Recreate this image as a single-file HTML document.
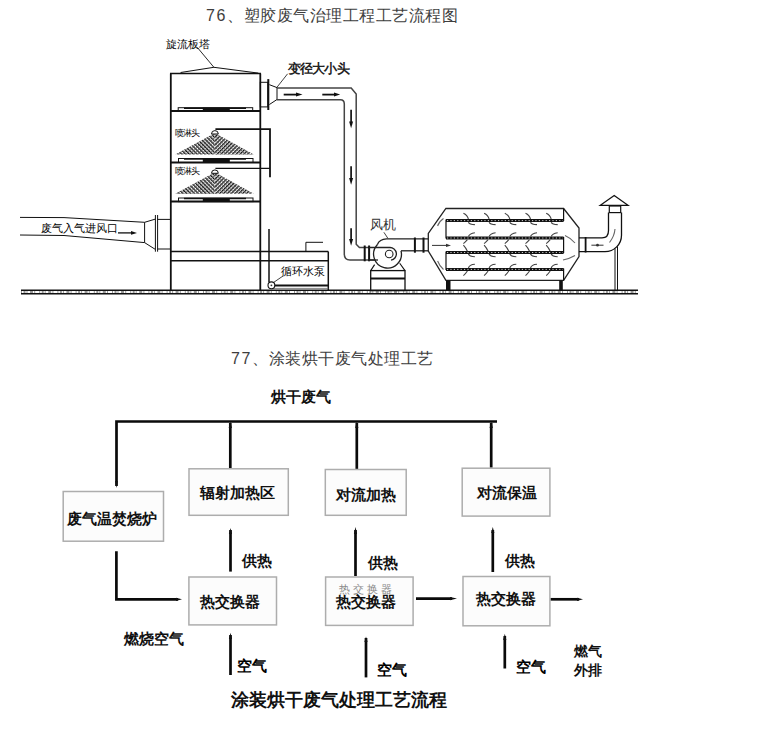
<!DOCTYPE html>
<html><head><meta charset="utf-8">
<style>
html,body{margin:0;padding:0;background:#fff;width:757px;height:736px;overflow:hidden}
.t{position:absolute;white-space:nowrap;font-family:"Liberation Sans",sans-serif;color:#3e3e3e;font-size:16px;line-height:1}
.s{font-family:"Liberation Serif",serif}
svg{position:absolute;left:0;top:0}
</style></head><body>
<div class="t" style="left:206px;top:8px;letter-spacing:0.5px"><span style="letter-spacing:1.6px">76</span>、塑胶废气治理工程工艺流程图</div>
<div class="t" style="left:231px;top:351px;letter-spacing:0.5px"><span style="letter-spacing:1.6px">77</span>、涂装烘干废气处理工艺</div>

<svg width="757" height="736" viewBox="0 0 757 736">
<defs>
<pattern id="hl" width="2.7" height="2.7" patternUnits="userSpaceOnUse" patternTransform="rotate(-45)">
<rect width="2.7" height="2.7" fill="#fff"/>
<rect x="0" y="0" width="1.3" height="2.7" fill="#111"/>
<rect x="0" y="0" width="2.7" height="0.7" fill="#555"/>
</pattern>
<pattern id="hr" width="2.7" height="2.7" patternUnits="userSpaceOnUse" patternTransform="rotate(45)">
<rect width="2.7" height="2.7" fill="#fff"/>
<rect x="0" y="0" width="1.3" height="2.7" fill="#111"/>
<rect x="0" y="0" width="2.7" height="0.7" fill="#555"/>
</pattern>
<pattern id="hatch" width="3" height="3" patternUnits="userSpaceOnUse" patternTransform="rotate(45)">
<rect width="3" height="3" fill="#fff"/>
<line x1="0" y1="0" x2="0" y2="3" stroke="#111" stroke-width="1.6"/>
<line x1="0" y1="0" x2="3" y2="0" stroke="#111" stroke-width="1.6"/>
</pattern>
</defs>
<g fill="none" stroke="#111" stroke-linecap="butt">
<!-- ground -->
<line x1="21" y1="290.3" x2="638" y2="290.3" stroke-width="1.4"/>
<line x1="21" y1="293.8" x2="638" y2="293.8" stroke-width="1.4"/>
<line x1="21" y1="292.05" x2="638" y2="292.05" stroke="#777" stroke-width="1.4" stroke-dasharray="1 1.5 2 1 1 2.5 3 1.2 1 4"/>

<!-- tower -->
<line x1="170.8" y1="73.6" x2="170.8" y2="290" stroke-width="1.8"/>
<line x1="260.3" y1="73.6" x2="260.3" y2="290" stroke-width="1.8"/>
<line x1="170" y1="73.6" x2="261" y2="73.6" stroke-width="1.5"/>
<polyline points="180.6,72.5 213.9,67.3 258.3,73.1" stroke-width="1"/>
<line x1="213.9" y1="67.3" x2="197.3" y2="47.4" stroke-width="0.9"/>
<line x1="170" y1="110.9" x2="261" y2="110.9" stroke-width="2"/>
<line x1="170" y1="162.5" x2="261" y2="162.5" stroke-width="2"/>
<line x1="170" y1="201.6" x2="261" y2="201.6" stroke-width="2"/>
<line x1="170" y1="251.5" x2="328.3" y2="251.5" stroke-width="1.5"/>
<line x1="170" y1="260.8" x2="328.3" y2="260.8" stroke-width="1.5"/>
<!-- plates -->
<rect x="178.2" y="107.7" width="74.5" height="3" stroke-width="1"/>
<line x1="184" y1="108.2" x2="246" y2="108.2" stroke-width="1.6"/>
<rect x="202.8" y="107.7" width="27" height="3" fill="#111" stroke="none"/>
<rect x="178.5" y="158.5" width="74.5" height="4" stroke-width="1"/>
<line x1="184" y1="159.0" x2="246" y2="159.0" stroke-width="1.6"/>
<rect x="202.8" y="158.5" width="27" height="4" fill="#111" stroke="none"/>
<rect x="178.5" y="198" width="74.5" height="3.6" stroke-width="1"/>
<line x1="184" y1="198.5" x2="246" y2="198.5" stroke-width="1.6"/>
<rect x="202.8" y="198" width="27" height="3.6" fill="#111" stroke="none"/>
<!-- spray cones -->
<polygon points="214.9,133 175.3,154.6 214.9,154.6" fill="url(#hl)" stroke="none"/>
<polygon points="214.9,133 253.8,154.6 214.9,154.6" fill="url(#hr)" stroke="none"/>
<polygon points="214.9,172.3 175.3,193.7 214.9,193.7" fill="url(#hl)" stroke="none"/>
<polygon points="214.9,172.3 253.8,193.7 214.9,193.7" fill="url(#hr)" stroke="none"/>
<path d="M211.5,134 a3.4,3.4 0 0 1 6.8,0 z" fill="#fff" stroke-width="1"/>
<path d="M211.5,173.3 a3.4,3.4 0 0 1 6.8,0 z" fill="#fff" stroke-width="1"/>
<!-- spray pipes -->
<polyline points="215.4,129.2 270,129.2 270,177.3" stroke-width="1.8"/>
<polyline points="215.4,168.4 270,168.4" stroke-width="1.2"/>
<line x1="269" y1="229" x2="269" y2="282" stroke-width="1.5"/>

<!-- pump tank -->
<line x1="328.3" y1="251.5" x2="328.3" y2="290" stroke-width="1.5"/>
<line x1="272" y1="285.5" x2="328.3" y2="285.5" stroke-width="1.8"/>
<line x1="272" y1="288.4" x2="328.3" y2="288.4" stroke-width="0.8" stroke="#666"/>
<polyline points="305.9,251.5 305.9,242.3 323,242.3" stroke-width="1"/>
<circle cx="271.4" cy="285.3" r="3.4" fill="#fff" stroke-width="1.1"/>
<circle cx="271.4" cy="285.3" r="0.9" fill="#333" stroke="none"/>
<line x1="273.5" y1="282.5" x2="283" y2="276" stroke-width="0.8"/>

<!-- inlet -->
<polyline points="20,217.4 64,217.6 144.6,222.3" stroke-width="1"/>
<polyline points="20,235 64,235.5 144.6,242.6" stroke-width="1"/>
<polyline points="144.6,222.3 155,219.2" stroke-width="1"/>
<polyline points="144.6,242.6 155,249.2" stroke-width="1"/>
<line x1="144.6" y1="222.3" x2="144.6" y2="242.6" stroke-width="1"/>
<line x1="155.4" y1="215" x2="155.4" y2="251.7" stroke-width="1"/>
<line x1="157.6" y1="215" x2="157.6" y2="251.7" stroke-width="1"/>
<line x1="157.6" y1="219.4" x2="170.8" y2="219.4" stroke-width="1"/>
<line x1="157.6" y1="249" x2="170.8" y2="249" stroke-width="1"/>
<line x1="118" y1="232.9" x2="133" y2="232.9" stroke-width="1.3"/>
<path d="M131,231 L137,232.9 L131,234.8 z" fill="#111" stroke="none"/>

<!-- outlet stub top -->
<rect x="260.3" y="82.3" width="7.5" height="24.6" stroke-width="1"/>
<line x1="268.3" y1="79.1" x2="268.3" y2="110" stroke-width="2"/>
<line x1="269.4" y1="84.7" x2="277" y2="87.6" stroke-width="1"/>
<line x1="269.4" y1="104.5" x2="277" y2="99.5" stroke-width="1"/>
<line x1="277" y1="87.6" x2="277" y2="99.5" stroke-width="1"/>
<line x1="276.7" y1="87.6" x2="287.6" y2="73.8" stroke-width="0.8"/>
<!-- duct -->
<g stroke="#444" stroke-width="1.5">
<path d="M277,88 H351.2 L356.2,94 V244.3 L359.4,247.5 H369"/>
<path d="M277,99.7 H340.5 Q344.3,99.7 344.3,104 V254 Q344.3,260 350,260 H378"/>
</g>
<!-- duct arrows -->
<line x1="283.7" y1="94.6" x2="298" y2="94.6" stroke-width="1.8"/>
<path d="M296,92.6 L302.5,94.6 L296,96.6 z" fill="#111" stroke="none"/>
<line x1="322.3" y1="94.6" x2="336" y2="94.6" stroke-width="1.8"/>
<path d="M334,92.6 L340.2,94.6 L334,96.6 z" fill="#111" stroke="none"/>
<line x1="351.1" y1="109.8" x2="351.1" y2="123" stroke-width="1.7"/>
<path d="M349.1,121.5 L351.1,128.3 L353.1,121.5 z" fill="#111" stroke="none"/>
<line x1="351.1" y1="166.3" x2="351.1" y2="179" stroke-width="1.7"/>
<path d="M349.1,178 L351.1,184.8 L353.1,178 z" fill="#111" stroke="none"/>
<line x1="351.1" y1="228.3" x2="351.1" y2="240" stroke-width="1.7"/>
<path d="M349.1,239 L351.1,245.7 L353.1,239 z" fill="#111" stroke="none"/>
<!-- flanges before fan -->
<line x1="364.7" y1="245.5" x2="364.7" y2="261.3" stroke-width="2"/>
<line x1="369.1" y1="245.5" x2="369.1" y2="261.3" stroke-width="2"/>
<!-- fan -->
<g stroke="#222" stroke-width="1.3">
<path d="M377.3,244.8 A13.9,13.9 0 1 0 401,250.8" fill="#fff"/>
<path d="M377.3,244.8 Q379.5,239 386.5,238.9 H428"/>
<path d="M401,250.8 H428"/>
<path d="M369,247.5 H389.5 A6.4,6.4 0 0 1 391,260.2"/>
<path d="M369,260 H378"/>
<circle cx="389.2" cy="254" r="3.8" fill="#fff" stroke-width="1.1"/>
</g>
<line x1="387.8" y1="238.2" x2="383.9" y2="232.3" stroke-width="0.8"/>
<line x1="414.9" y1="237.5" x2="414.9" y2="252.7" stroke-width="2"/>
<line x1="423.5" y1="237.5" x2="423.5" y2="252.7" stroke-width="2"/>
<!-- fan base -->
<path d="M374.6,264.6 L370.7,270.6 M399.7,263.3 L405,270.6" stroke-width="1.1"/>
<rect x="370.7" y="270.6" width="34.3" height="20" stroke-width="1.3"/>
<line x1="370.7" y1="278.5" x2="405" y2="278.5" stroke-width="1.8"/>

<!-- filter box -->
<polygon points="445.9,208.5 563.6,208.5 579,228 579,256.6 563.6,280.3 445.9,280.3 428.3,251 428.3,233.5" stroke-width="1.3" stroke="#222" fill="#fff"/>
<!-- plates -->
<g stroke-width="3" stroke="#111">
<line x1="446" y1="220.6" x2="563.6" y2="220.6"/>
<line x1="446" y1="238" x2="563.6" y2="238"/>
<line x1="446" y1="252.5" x2="563.6" y2="252.5"/>
<line x1="446" y1="269.4" x2="563.6" y2="269.4"/>
</g>
<g stroke-width="0.9" stroke="#ddd" stroke-dasharray="1.2 2.2">
<line x1="447" y1="220.6" x2="563" y2="220.6"/>
<line x1="447" y1="238" x2="563" y2="238"/>
<line x1="447" y1="252.5" x2="563" y2="252.5"/>
<line x1="447" y1="269.4" x2="563" y2="269.4"/>
</g>
<line x1="446" y1="219.5" x2="446" y2="238.5" stroke-width="1.2"/>
<line x1="446" y1="251.5" x2="446" y2="270" stroke-width="1.2"/>
<line x1="563.6" y1="208.5" x2="563.6" y2="221" stroke-width="1.2"/>
<line x1="563.6" y1="237" x2="563.6" y2="253" stroke-width="1.2"/>
<line x1="563.6" y1="268.5" x2="563.6" y2="280.3" stroke-width="1.2"/>
<path d="M463.4,213.2 Q467.4,215 468.4,219 M468.4,222.2 Q469.4,224.5 474.9,224.6 M468.4,236.5 Q469.4,233.5 474.9,232.7 M467.4,239.6 Q465.4,242 463.4,243.6 M463.4,245.2 Q465.9,248 467.4,251.2 M468.4,254 Q469.4,256.5 474.9,256.8 M468.4,268 Q469.4,264.5 474.9,264.3 M467.4,271 Q465.4,274 463.4,275.6 M484.1,213.2 Q488.1,215 489.1,219 M489.1,222.2 Q490.1,224.5 495.6,224.6 M489.1,236.5 Q490.1,233.5 495.6,232.7 M488.1,239.6 Q486.1,242 484.1,243.6 M484.1,245.2 Q486.6,248 488.1,251.2 M489.1,254 Q490.1,256.5 495.6,256.8 M489.1,268 Q490.1,264.5 495.6,264.3 M488.1,271 Q486.1,274 484.1,275.6 M504.8,213.2 Q508.8,215 509.8,219 M509.8,222.2 Q510.8,224.5 516.3,224.6 M509.8,236.5 Q510.8,233.5 516.3,232.7 M508.8,239.6 Q506.8,242 504.8,243.6 M504.8,245.2 Q507.3,248 508.8,251.2 M509.8,254 Q510.8,256.5 516.3,256.8 M509.8,268 Q510.8,264.5 516.3,264.3 M508.8,271 Q506.8,274 504.8,275.6 M525.5,213.2 Q529.5,215 530.5,219 M530.5,222.2 Q531.5,224.5 537.0,224.6 M530.5,236.5 Q531.5,233.5 537.0,232.7 M529.5,239.6 Q527.5,242 525.5,243.6 M525.5,245.2 Q528.0,248 529.5,251.2 M530.5,254 Q531.5,256.5 537.0,256.8 M530.5,268 Q531.5,264.5 537.0,264.3 M529.5,271 Q527.5,274 525.5,275.6 M546.2,213.2 Q550.2,215 551.2,219 M551.2,222.2 Q552.2,224.5 557.7,224.6 M551.2,236.5 Q552.2,233.5 557.7,232.7 M550.2,239.6 Q548.2,242 546.2,243.6 M546.2,245.2 Q548.7,248 550.2,251.2 M551.2,254 Q552.2,256.5 557.7,256.8 M551.2,268 Q552.2,264.5 557.7,264.3 M550.2,271 Q548.2,274 546.2,275.6" stroke="#444" stroke-width="1.1" fill="none"/>
<path d="M437.6,226 Q439,221.5 443.5,218.5 M437.6,261 Q439.5,266 443.5,269.5 M565,235.4 Q571,238 575,243 M563,260 Q570,258.5 575,255.5" stroke="#666" stroke-width="1.1" fill="none"/>
<line x1="432" y1="245.4" x2="448" y2="245.4" stroke="#333" stroke-width="1"/>
<path d="M446,243.8 L451,245.4 L446,247 z" fill="#333" stroke="none"/>
<line x1="591.4" y1="245.2" x2="603.5" y2="245.2" stroke="#333" stroke-width="1"/>
<circle cx="597.5" cy="245.2" r="1.4" fill="#333" stroke="none"/>
<path d="M609.5,242.5 Q614.5,236 615,229" stroke="#666" stroke-width="1.1" fill="none"/>
<rect x="446" y="280.3" width="4.5" height="10" fill="#111" stroke="none"/>
<rect x="559.2" y="280.3" width="3.6" height="10" fill="#111" stroke="none"/>
<!-- exhaust -->
<path d="M579,237.9 H602 Q608.5,237.9 608.5,230.5 V212.6" stroke-width="1.3"/>
<path d="M579,251.7 H605 A16.5,16.5 0 0 0 621.5,235.2 V212.6" stroke-width="1.3"/>
<line x1="585.6" y1="237" x2="585.6" y2="252.5" stroke-width="1.8"/>
<rect x="609.3" y="206" width="11.4" height="6.6" stroke-width="1.2"/>
<polygon points="600.3,205.3 628,205.3 614.2,195.5" stroke-width="1.3" fill="#fff"/>
<line x1="615" y1="248.6" x2="615" y2="290" stroke-width="1"/>
<line x1="617.5" y1="246.3" x2="617.5" y2="290" stroke-width="1"/>
</g>

<!-- top diagram labels -->
<g font-family="Liberation Sans, sans-serif" fill="#000">
<text x="166" y="48" font-size="10.6">旋流板塔</text>
<text x="174.8" y="135.5" font-size="8.6" textLength="25">喷淋头</text>
<text x="174.8" y="173.5" font-size="8.6" textLength="25">喷淋头</text>
<text x="40.9" y="232" font-size="10.7">废气入气进风口</text>
<text x="281.3" y="275" font-size="10.6">循环水泵</text>
</g>
<g font-family="Liberation Serif, serif" fill="#222" font-weight="bold">
<text x="287.6" y="73" font-size="12.5" textLength="62">变径大小头</text>
</g>
<g font-family="Liberation Serif, serif" fill="#333">
<text x="370" y="228.5" font-size="12.5">风机</text>
</g>

<!-- bottom flowchart -->
<g fill="none" stroke="#0a0a0a" stroke-width="2.7">
<polyline points="116.5,486 116.5,421.5 497,421.5"/>
<line x1="230.3" y1="468.3" x2="230.3" y2="423"/>
<line x1="356.8" y1="469" x2="356.8" y2="423"/>
<line x1="491.2" y1="467.7" x2="491.2" y2="423"/>
<line x1="230.5" y1="571.6" x2="230.5" y2="530"/>
<line x1="355.5" y1="576" x2="355.5" y2="530"/>
<line x1="492.8" y1="572" x2="492.8" y2="530"/>
<line x1="230.5" y1="675" x2="230.5" y2="635"/>
<line x1="366" y1="677.4" x2="366" y2="638"/>
<line x1="504.8" y1="668.5" x2="504.8" y2="636"/>
<polyline points="116.4,551.3 116.4,599.3 178,599.3"/>
<line x1="416" y1="598.6" x2="452" y2="598.6"/>
<line x1="550.4" y1="599.3" x2="579" y2="599.3"/>
</g>
<g fill="#111">
<path d="M228.7,428.0 L230.3,421.5 L231.9,428.0 z"/>
<path d="M355.2,428.0 L356.8,421.5 L358.4,428.0 z"/>
<path d="M489.6,428.0 L491.2,421.5 L492.8,428.0 z"/>
<path d="M228.9,534.0 L230.5,528.0 L232.1,534.0 z"/>
<path d="M353.9,534.0 L355.5,527.0 L357.1,534.0 z"/>
<path d="M491.2,533.0 L492.8,527.0 L494.4,533.0 z"/>
<path d="M228.9,639.0 L230.5,632.8 L232.1,639.0 z"/>
<path d="M364.4,642.0 L366.0,636.4 L367.6,642.0 z"/>
<path d="M503.2,640.0 L504.8,633.7 L506.4,640.0 z"/>
<path d="M115.1,481.0 L116.5,488.0 L117.9,481.0 z"/>
<path d="M176.0,597.7 L182.0,599.3 L176.0,600.9 z"/>
<path d="M450.0,597.0 L457.0,598.6 L450.0,600.2 z"/>
<path d="M577.0,597.7 L583.0,599.3 L577.0,600.9 z"/>
</g>
<g fill="#fcfcfc" stroke="#adadad" stroke-width="1.5">
<rect x="63.2" y="491.5" width="100.3" height="49.7"/>
<rect x="189" y="468.8" width="99.3" height="46.5"/>
<rect x="325.3" y="469.5" width="80.9" height="45.8"/>
<rect x="462.2" y="468.2" width="87.7" height="47.9"/>
<rect x="188.9" y="577" width="87.6" height="47.9"/>
<rect x="325.6" y="577" width="87.5" height="48.4"/>
<rect x="463" y="576.5" width="86.9" height="49.3"/>
</g>
<g font-family="Liberation Serif, serif" fill="#111" font-weight="bold" font-size="15">
<text x="271" y="401.5" font-weight="bold">烘干废气</text>
<text x="67" y="523.5" font-weight="bold">废气温焚烧炉</text>
<text x="199.8" y="498" font-weight="bold">辐射加热区</text>
<text x="335.9" y="499.5" font-weight="bold">对流加热</text>
<text x="477" y="498" font-weight="bold">对流保温</text>
<text x="200" y="606.5" font-weight="bold">热交换器</text>
<text x="338.5" y="592.5" font-size="11" font-weight="normal" fill="#8a8a8a" textLength="53">热交换器</text>
<text x="335.7" y="606.5">热交换器</text>
<text x="475.7" y="604" font-weight="bold">热交换器</text>
<text x="242" y="566" font-weight="bold">供热</text>
<text x="368" y="568" font-weight="bold">供热</text>
<text x="504.7" y="565.5" font-weight="bold">供热</text>
<text x="124" y="643.5" font-weight="bold">燃烧空气</text>
<text x="574.4" y="656" font-size="13.5">燃气</text>
<text x="574.4" y="675" font-size="13.5">外排</text>
</g>
<g font-family="Liberation Serif, serif" fill="#000" font-size="15" font-weight="bold">
<text x="236.7" y="670.5">空气</text>
<text x="376.6" y="675">空气</text>
<text x="516" y="671.5">空气</text>
</g>
<g font-family="Liberation Serif, serif" fill="#111" font-weight="bold" font-size="18">
<text x="231.3" y="706" textLength="215.5">涂装烘干废气处理工艺流程</text>
</g>
</svg>
</body></html>
